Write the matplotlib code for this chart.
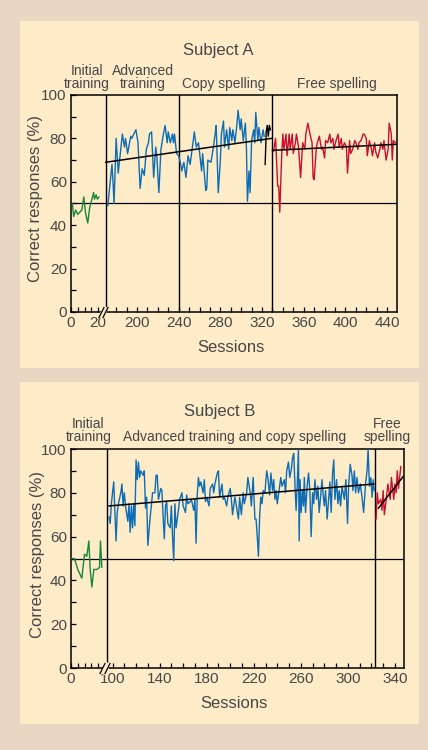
import numpy as np
import matplotlib
matplotlib.use("Agg")
import matplotlib.pyplot as plt
from matplotlib.patches import Rectangle
from matplotlib import transforms

# ---- data ----
# Subject A
a_init_x = [1, 2, 3.5, 5, 8, 9.5, 10.7, 12.4, 13.8, 15.5, 16.7, 17.4, 18.6, 19.5, 20.7]
a_init_y = [50, 44, 47, 45, 47, 53, 46, 41, 48, 52, 55, 52, 54, 52, 53]

a_train_x = [172, 176, 177, 178, 180, 182, 184, 186, 188, 189, 191, 194, 195, 197, 199,
             201, 203, 205, 207, 209, 211, 212, 214, 216, 218, 219, 221, 223, 225, 227,
             229, 230, 232, 234, 235, 236, 238, 240, 242, 243, 245, 247, 249, 251, 254,
             255, 257, 259, 262, 263, 266, 267, 268, 271, 273, 275, 276, 278, 280, 281,
             283, 284, 286, 288, 289, 291, 292, 294, 296, 297, 299, 300, 302, 304, 305,
             306, 307.5, 308.5, 310, 312, 313, 314, 316, 317, 319, 321, 322]
a_train_y = [49, 68, 60, 50, 80, 64, 73, 82, 76, 80, 73, 81, 80, 82, 84,
             78, 57, 66, 63, 75, 78, 82, 83, 62, 76, 72, 55, 75, 81, 86,
             78, 83, 78, 82, 78, 82, 73, 72, 68, 65, 69, 62, 72, 68, 79,
             83, 76, 78, 65, 73, 56, 57, 70, 69, 75, 82, 86, 55, 70, 82,
             88, 76, 84, 75, 85, 79, 84, 78, 87, 93, 84, 89, 79, 87, 76,
             51, 65, 55, 79, 84, 78, 92, 79, 85, 78, 84, 81]

a_other_x = [323, 324, 325, 326, 327, 328]
a_other_y = [68, 83, 86, 81, 86, 84]

a_free_x = [331, 333, 335, 336, 337, 339, 340, 341, 343, 344, 346, 347, 349, 350, 352,
            353, 355, 357, 359, 361, 362, 364, 366, 368, 369, 370, 372, 373, 375, 377,
            378, 380, 381, 383, 385, 386, 388, 389, 391, 393, 394, 396, 397, 399, 401,
            402, 404, 405, 407, 409, 410, 412, 413, 415, 417, 418, 420, 421, 423, 425,
            426, 428, 429, 431, 433, 434, 436, 437, 439, 441, 442, 444, 445, 446, 448]
a_free_y = [74, 80, 58, 58, 46, 74, 82, 75, 82, 72, 82, 75, 82, 73, 78,
            82, 76, 62, 78, 75, 82, 87, 82, 78, 62, 61, 75, 78, 81, 75,
            76, 71, 79, 78, 82, 78, 80, 75, 79, 82, 76, 80, 75, 78, 76,
            64, 79, 73, 75, 79, 78, 75, 78, 79, 82, 82, 80, 72, 79, 75,
            72, 78, 74, 71, 75, 78, 75, 79, 70, 75, 87, 82, 70, 79, 78]

a_trend_train = ([170, 329], [69, 80])
a_trend_free = ([330, 450], [74.5, 77.3])
a_phase_lines = [170, 240, 329.3]

# Subject B
b_init_x = [0.2, 2.6, 5, 8, 10, 11.7, 13.2, 14.2, 15.4, 16.9, 19.4, 21.1, 21.8, 22.8]
b_init_y = [50, 50, 45, 41, 52, 51, 58, 45, 37, 45, 45, 46, 58, 46]

b_train_x = [97, 98, 99, 101, 103, 104, 105, 107, 108, 109, 110, 111, 113, 114, 115,
             116, 117, 118, 119, 120, 121, 122, 123, 124, 126, 127, 128, 129, 130, 132,
             133, 134, 136, 137, 138, 139, 141, 142, 143, 144, 145, 146, 147, 149, 150,
             151, 152, 153, 154, 156, 157, 159, 160, 162, 163, 164, 166, 167, 169, 170,
             171, 172, 173, 174, 175, 177, 178, 179, 180, 182, 183, 185, 186, 187, 189,
             190, 191, 193, 194, 195, 197, 198, 200, 201, 202, 204, 205, 207, 208, 209.5,
             211, 212, 214, 215, 217, 218, 219.5, 221, 222, 223, 224, 225, 226, 227, 228,
             229.5, 231, 232, 233.5, 234.6, 236, 237, 238, 239, 240, 241.5, 243, 244, 246, 247,
             248, 249.5, 250.6, 252, 253, 254, 255, 256, 257, 258, 258.6, 259.4, 260.3, 261.4, 262.3,
             263, 264, 265.4, 266.6, 267.7, 268.8, 270, 271, 272, 273.4, 274.5, 275.6, 276.8, 278, 279,
             280, 281, 282.4, 283.6, 284.7, 285.8, 287, 288, 289, 290.4, 291.5, 292.6, 293.8, 295, 296,
             297, 298.3, 299.7, 300.6, 302, 303.5, 304.3, 305.5, 306.6, 307.7, 309, 310.6, 312, 313.4, 315,
             316.3, 317.2, 318.3, 319.5, 320.6, 321.5, 322.4]
b_train_y = [69, 66, 75, 85, 58, 71, 75, 80, 84, 74, 80, 74, 67, 75, 62,
             74, 64, 75, 65, 95, 86, 94, 87, 90, 88, 90, 73, 78, 56, 69,
             74, 80, 80, 88, 88, 77, 82, 81, 69, 59, 74, 76, 66, 64, 74,
             60, 49, 75, 64, 72, 77, 80, 74, 71, 79, 75, 76, 77, 72, 77,
             57, 79, 87, 83, 85, 80, 86, 76, 78, 74, 82, 84, 80, 84, 89,
             90, 78, 84, 77, 78, 74, 78, 82, 77, 70, 78, 75, 68, 78, 70,
             80, 75, 80, 87, 80, 74, 87, 68, 68, 60, 51, 69, 78, 75, 81,
             80, 90, 87, 79, 89, 81, 86, 77, 81, 75, 81, 87, 83, 86, 80,
             90, 94, 87, 91, 96, 98, 84, 72, 84, 100, 58, 86, 71, 81, 74,
             87, 71, 83, 89, 81, 60, 80, 75, 86, 77, 83, 71, 78, 86, 79,
             74, 81, 68, 77, 85, 71, 89, 95, 77, 86, 75, 81, 74, 83, 80,
             77, 86, 66, 83, 93, 88, 81, 90, 80, 87, 80, 84, 78, 71, 84,
             90, 100, 83, 87, 78, 86, 81]

b_free_x = [324, 325, 326, 328, 329, 330, 331, 333, 334, 336, 337, 339, 340, 341, 342, 343, 345]
b_free_y = [68, 80, 75, 77, 72, 81, 70, 79, 84, 77, 87, 77, 84, 80, 90, 82, 92]

b_trend_train = ([97, 322], [74, 84])
b_trend_free = ([326, 347], [73, 87.4])
b_phase_lines = [95, 323]

# ---- styling ----
W, H = 428, 750
tan = "#e8d8c3"
cream = "#feebc8"
txt = "#474747"
green = "#17873b"
blue = "#0c6db6"
red = "#c8102e"
plt.rcParams["font.family"] = ["Liberation Sans", "DejaVu Sans"]


def fx(x):
    return x / W


def fy(y):
    return 1 - y / H


def broken_scale(a1, b0, k):
    # initial sessions [0, a1] stretched by k, then jump to b0
    mid = (a1 + b0) / 2

    def fwd(x):
        x = np.asarray(x, float)
        return np.where(x <= mid, x * k, a1 * k + (x - b0))

    def inv(u):
        u = np.asarray(u, float)
        return np.where(u <= a1 * k, u / k, u - a1 * k + b0)

    return fwd, inv


fig = plt.figure(figsize=(W / 100, H / 100), dpi=100, facecolor=tan)
fig.patches.append(Rectangle((fx(20), fy(368)), 399 / W, (368 - 21) / H,
                             transform=fig.transFigure, facecolor=cream, edgecolor="none", zorder=-5))
fig.patches.append(Rectangle((fx(20), fy(724)), 399 / W, (724 - 382) / H,
                             transform=fig.transFigure, facecolor=cream, edgecolor="none", zorder=-5))


def panel(rect, a1, b0, k, xmax, major, minor, major_labels, series, trends, vlines):
    ax = fig.add_axes(rect, zorder=2)
    ax.set_facecolor(cream)
    fwd, inv = broken_scale(a1, b0, k)
    ax.set_xscale("function", functions=(fwd, inv))
    ax.set_xlim(0, xmax)
    ax.set_ylim(0, 100)
    for xs, ys, c in series:
        ax.plot(xs, ys, color=c, lw=1.0, zorder=3)
    for xs, ys in trends:
        ax.plot(xs, ys, color="black", lw=1.1, zorder=4)
    ax.axhline(50, color="black", lw=0.9, zorder=2)
    for v in vlines:
        ax.axvline(v, color="black", lw=1.0, zorder=2)
    ax.set_xticks(major)
    ax.set_xticklabels(major_labels)
    ax.set_xticks(minor, minor=True)
    ax.set_yticks(range(0, 101, 20))
    ax.set_yticks(range(10, 100, 20), minor=True)
    ax.tick_params(which="both", direction="in", length=3.5, width=0.9, colors="black",
                   labelcolor=txt, labelsize=11, pad=3, top=False, right=False)
    for s in ax.spines.values():
        s.set_linewidth(1.1)
    # axis break mark
    trans = transforms.blended_transform_factory(ax.transData, ax.transAxes)
    slash = [(-1, -2), (1, 2)]
    ax.plot([a1], [0], marker=slash, ms=8, mew=4, color=cream,
            transform=trans, clip_on=False, zorder=5)
    for dx in (-1.6, 1.6):
        off = trans + transforms.ScaledTranslation(dx / 72, 0, fig.dpi_scale_trans)
        ax.plot([a1], [0], marker=slash, ms=8, mew=0.9, color="black",
                transform=off, clip_on=False, zorder=6)
    return ax


# Subject A
a_major = [0, 20, 200, 240, 280, 320, 360, 400, 440]
a_minor = [5, 10, 15] + [v for v in range(170, 450, 10) if v not in a_major]
panel([fx(71), fy(312), (397 - 71) / W, (312 - 95) / H], 23.7, 167.4, 1.35 / 1.042, 449.5,
      a_major, a_minor, [str(v) for v in a_major],
      [(a_init_x, a_init_y, green), (a_train_x, a_train_y, blue),
       (a_other_x, a_other_y, "black"), (a_free_x, a_free_y, red)],
      [a_trend_train, a_trend_free], a_phase_lines)

# Subject B
b_major = [0, 100, 140, 180, 220, 260, 300, 340]
b_minor = [5, 10, 15, 20] + [v for v in range(100, 348, 10) if v not in b_major]
panel([fx(71), fy(668), (404 - 71) / W, (668 - 449) / H], 24.8, 93.2, 1.35 / 1.175, 347.7,
      b_major, b_minor, [str(v) for v in b_major],
      [(b_init_x, b_init_y, green), (b_train_x, b_train_y, blue), (b_free_x, b_free_y, red)],
      [b_trend_train, b_trend_free], b_phase_lines)

# ---- text ----
fig.text(fx(218), fy(51), "Subject A", ha="center", va="center", fontsize=12, color=txt)
fig.text(fx(220), fy(411), "Subject B", ha="center", va="center", fontsize=12, color=txt)

for x, s in [(87, "Initial\ntraining"), (142.5, "Advanced\ntraining"),
             (224, "Copy spelling"), (336.5, "Free spelling")]:
    fig.text(fx(x), fy(91), s, ha="center", va="bottom", fontsize=10, color=txt,
             linespacing=0.9, multialignment="center")
for x, s in [(88.5, "Initial\ntraining"), (234.5, "Advanced training and copy spelling"),
             (387, "Free\nspelling")]:
    fig.text(fx(x), fy(444), s, ha="center", va="bottom", fontsize=10, color=txt,
             linespacing=0.9, multialignment="center")

fig.text(fx(36), fy(199), "Correct responses (%)", rotation=90, ha="center", va="center",
         fontsize=12, color=txt)
fig.text(fx(38), fy(555), "Correct responses (%)", rotation=90, ha="center", va="center",
         fontsize=12, color=txt)
fig.text(fx(231), fy(348), "Sessions", ha="center", va="center", fontsize=12, color=txt)
fig.text(fx(234), fy(704), "Sessions", ha="center", va="center", fontsize=12, color=txt)

fig.savefig("out.png", dpi=100, facecolor=tan)
